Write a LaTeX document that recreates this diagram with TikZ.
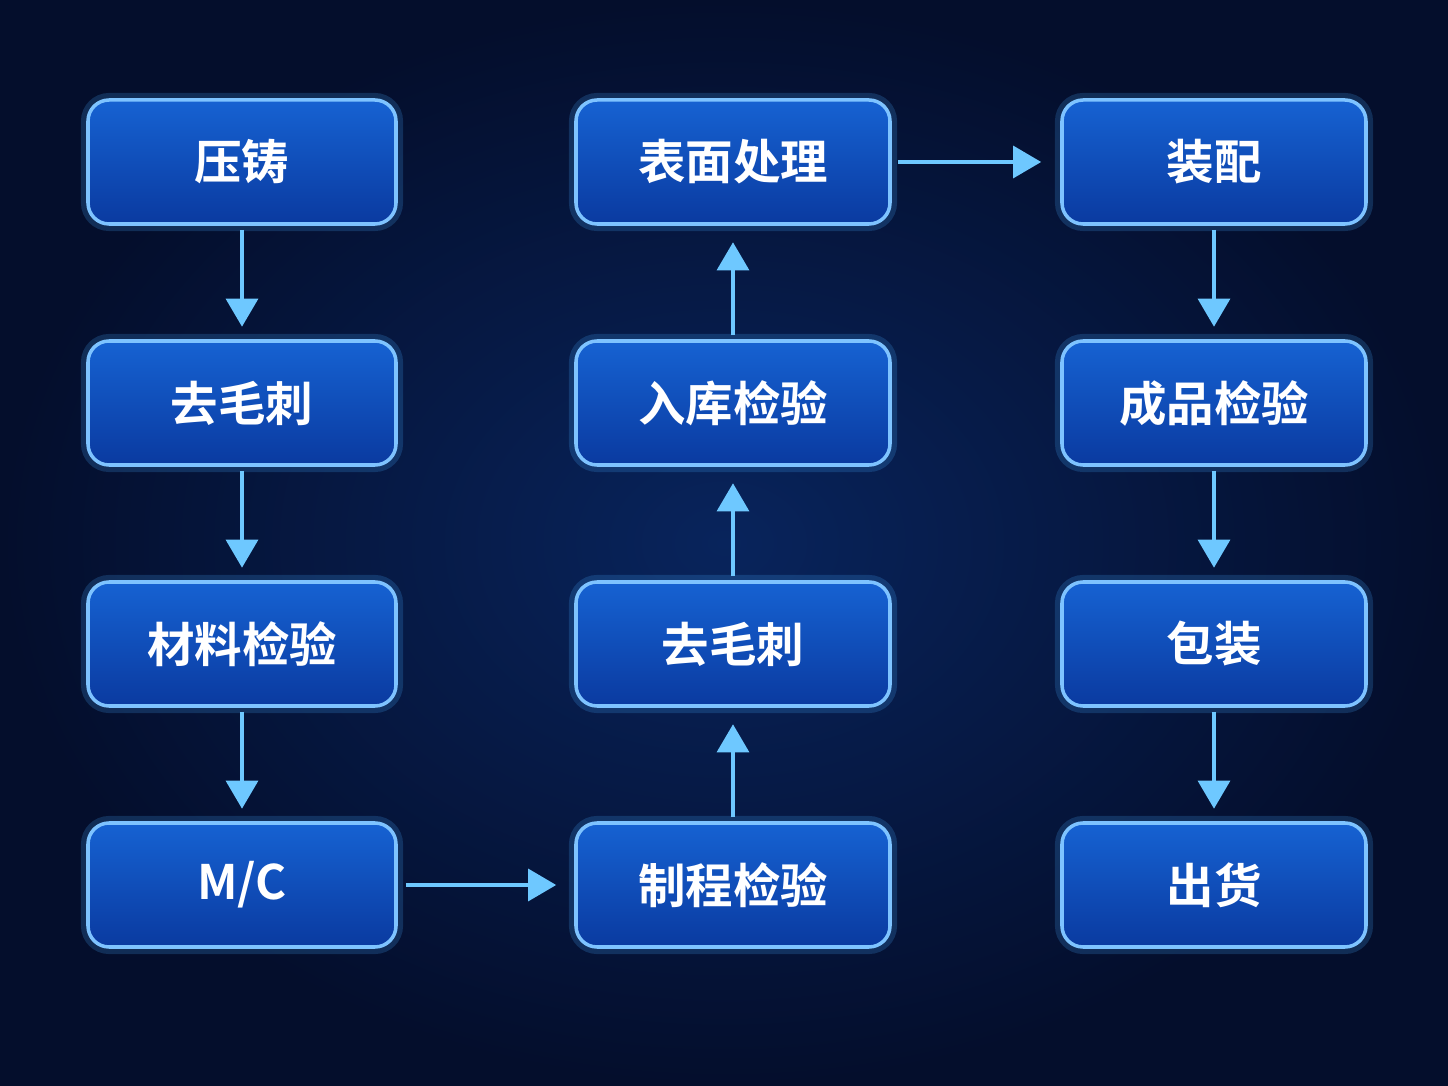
\documentclass[tikz,border=0pt]{standalone}
\usepackage{fontspec}
\newfontfamily\cjk{Noto Sans CJK SC}[BoldFont={* Bold}]
\usepackage{tikz}
\usetikzlibrary{positioning}
\usetikzlibrary{arrows.meta}
\definecolor{bgdark}{RGB}{4,14,44}
\definecolor{bgmid}{RGB}{8,36,92}
\definecolor{boxtop}{RGB}{22,98,210}
\definecolor{boxbot}{RGB}{10,58,160}
\definecolor{glow}{RGB}{70,170,255}
\definecolor{arrowc}{RGB}{110,200,255}

\begin{document}
\begin{tikzpicture}[
            >={Triangle[length=8pt,width=9pt]}, % arrow head style
            node distance = 2.41cm, % distance between rows
            thick
        ]

        \tikzstyle{step box}=[
            draw = glow!70!white,
            line width = 1pt,
            rounded corners = 6pt,
            top color = boxtop,
            bottom color = boxbot,
            minimum height = 1.24cm,
            text = white,
            font = \cjk\bfseries\fontsize{13.5}{16}\selectfont,
            preaction = {draw = glow, line width = 4pt, opacity = 0.2}
        ]
        \tikzstyle{flow}=[->, arrowc, line width = 1.3pt]

        % background
        \fill[inner color = bgmid, outer color = bgdark] (0,0) rectangle (14.48,-10.86);
        \useasboundingbox (0,0) rectangle (14.48,-10.86);

	% first column
        \node[step box, minimum width = 3.08cm] (C1) at (2.42,-1.62) {压铸};
        \node[step box, minimum width = 3.08cm] (D1) [below of = C1] {去毛刺};
        \node[step box, minimum width = 3.08cm] (M1) [below of = D1] {材料检验};
        \node[step box, minimum width = 3.08cm] (MC) [below of = M1] {M/C};

        % second column
        \node[step box, minimum width = 3.14cm] (S2) at (7.33,-1.62) {表面处理};
        \node[step box, minimum width = 3.14cm] (R2) [below of = S2] {入库检验};
        \node[step box, minimum width = 3.14cm] (D2) [below of = R2] {去毛刺};
        \node[step box, minimum width = 3.14cm] (P2) [below of = D2] {制程检验};

        % third column
        \node[step box, minimum width = 3.04cm] (A3) at (12.14,-1.62) {装配};
        \node[step box, minimum width = 3.04cm] (F3) [below of = A3] {成品检验};
        \node[step box, minimum width = 3.04cm] (B3) [below of = F3] {包装};
        \node[step box, minimum width = 3.04cm] (O3) [below of = B3] {出货};

        % connectors
        \draw[flow] ([yshift=-0.04cm]C1.south) -- ++(0,-0.97);
        \draw[flow] ([yshift=-0.04cm]D1.south) -- ++(0,-0.97);
        \draw[flow] ([yshift=-0.04cm]M1.south) -- ++(0,-0.97);
        \draw[flow] ([xshift=0.08cm]MC.east) -- ([xshift=-0.18cm]P2.west);
        \draw[flow] ([yshift=0.04cm]P2.north) -- ++(0,0.93);
        \draw[flow] ([yshift=0.04cm]D2.north) -- ++(0,0.93);
        \draw[flow] ([yshift=0.04cm]R2.north) -- ++(0,0.93);
        \draw[flow] ([xshift=0.06cm]S2.east) -- ([xshift=-0.19cm]A3.west);
        \draw[flow] ([yshift=-0.04cm]A3.south) -- ++(0,-0.97);
        \draw[flow] ([yshift=-0.04cm]F3.south) -- ++(0,-0.97);
        \draw[flow] ([yshift=-0.04cm]B3.south) -- ++(0,-0.97);

  \end{tikzpicture}
\end{document}
